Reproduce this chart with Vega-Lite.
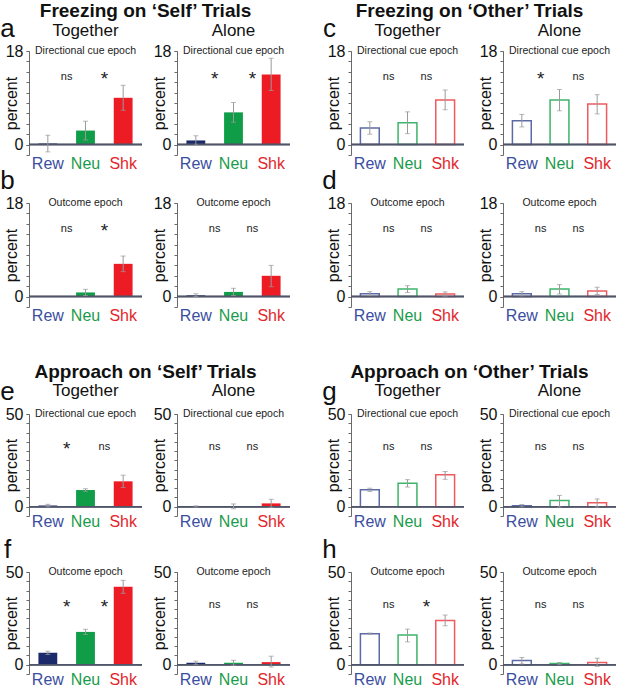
{
  "$schema": "https://vega.github.io/schema/vega-lite/v6.json",
  "padding": {"left": 0, "top": 2, "right": 0, "bottom": 0},
  "background": "white",
  "config": {
    "font": "Liberation Sans",
    "view": {"stroke": null},
    "title": {"fontSize": 19, "fontWeight": "bold", "font": "Liberation Sans", "color": "#111", "offset": -5, "anchor": "middle"},
    "axisY": {"grid": false, "domainColor": "#6a6a6a", "tickColor": "#6a6a6a", "tickSize": 3, "labelFontSize": 16, "labelColor": "#111", "labelPadding": 3, "labelOverlap": false, "titleFontSize": 16, "titleFontWeight": "normal", "titleColor": "#111", "titlePadding": -14, "titleFont": "Liberation Sans"},
    "axisX": {"grid": false, "domain": false, "ticks": false, "labelFontSize": 16, "labelPadding": 0, "labelAngle": 0, "title": null, "labelFont": "Liberation Sans"},
    "header": {"labelFont": "Liberation Sans", "labelColor": "#111"}
  },
  "data": {"values": [
    {"b":"FS","r":"a","c":"Together","cat":"Rew","v":0.2,"lo":-1.4,"hi":1.8,"sig":null,"ep":"Directional cue epoch"},
    {"b":"FS","r":"a","c":"Together","cat":"Neu","v":2.7,"lo":0.9,"hi":4.5,"sig":"ns","ep":"Directional cue epoch"},
    {"b":"FS","r":"a","c":"Together","cat":"Shk","v":9.0,"lo":6.6,"hi":11.4,"sig":"*","ep":"Directional cue epoch"},
    {"b":"FS","r":"a","c":"Alone","cat":"Rew","v":0.8,"lo":-0.1,"hi":1.7,"sig":null,"ep":"Directional cue epoch"},
    {"b":"FS","r":"a","c":"Alone","cat":"Neu","v":6.2,"lo":4.3,"hi":8.1,"sig":"*","ep":"Directional cue epoch"},
    {"b":"FS","r":"a","c":"Alone","cat":"Shk","v":13.5,"lo":10.4,"hi":16.6,"sig":"*","ep":"Directional cue epoch"},
    {"b":"FS","r":"b","c":"Together","cat":"Rew","v":0,"lo":null,"hi":null,"sig":null,"ep":"Outcome epoch"},
    {"b":"FS","r":"b","c":"Together","cat":"Neu","v":0.8,"lo":0.2,"hi":1.4,"sig":"ns","ep":"Outcome epoch"},
    {"b":"FS","r":"b","c":"Together","cat":"Shk","v":6.3,"lo":4.8,"hi":7.8,"sig":"*","ep":"Outcome epoch"},
    {"b":"FS","r":"b","c":"Alone","cat":"Rew","v":0.25,"lo":0,"hi":0.55,"sig":null,"ep":"Outcome epoch"},
    {"b":"FS","r":"b","c":"Alone","cat":"Neu","v":0.9,"lo":0.2,"hi":1.6,"sig":"ns","ep":"Outcome epoch"},
    {"b":"FS","r":"b","c":"Alone","cat":"Shk","v":4.0,"lo":1.9,"hi":6.0,"sig":"ns","ep":"Outcome epoch"},

    {"b":"FO","r":"c","c":"Together","cat":"Rew","v":3.2,"lo":2.0,"hi":4.4,"sig":null,"ep":"Directional cue epoch"},
    {"b":"FO","r":"c","c":"Together","cat":"Neu","v":4.2,"lo":2.1,"hi":6.3,"sig":"ns","ep":"Directional cue epoch"},
    {"b":"FO","r":"c","c":"Together","cat":"Shk","v":8.6,"lo":6.7,"hi":10.5,"sig":"ns","ep":"Directional cue epoch"},
    {"b":"FO","r":"c","c":"Alone","cat":"Rew","v":4.6,"lo":3.4,"hi":5.8,"sig":null,"ep":"Directional cue epoch"},
    {"b":"FO","r":"c","c":"Alone","cat":"Neu","v":8.6,"lo":6.5,"hi":10.6,"sig":"*","ep":"Directional cue epoch"},
    {"b":"FO","r":"c","c":"Alone","cat":"Shk","v":7.8,"lo":5.9,"hi":9.6,"sig":"ns","ep":"Directional cue epoch"},
    {"b":"FO","r":"d","c":"Together","cat":"Rew","v":0.57,"lo":0.2,"hi":0.95,"sig":null,"ep":"Outcome epoch"},
    {"b":"FO","r":"d","c":"Together","cat":"Neu","v":1.45,"lo":0.8,"hi":2.1,"sig":"ns","ep":"Outcome epoch"},
    {"b":"FO","r":"d","c":"Together","cat":"Shk","v":0.5,"lo":0.1,"hi":0.9,"sig":"ns","ep":"Outcome epoch"},
    {"b":"FO","r":"d","c":"Alone","cat":"Rew","v":0.57,"lo":0.15,"hi":0.95,"sig":null,"ep":"Outcome epoch"},
    {"b":"FO","r":"d","c":"Alone","cat":"Neu","v":1.45,"lo":0.5,"hi":2.3,"sig":"ns","ep":"Outcome epoch"},
    {"b":"FO","r":"d","c":"Alone","cat":"Shk","v":1.07,"lo":0.4,"hi":1.8,"sig":"ns","ep":"Outcome epoch"},

    {"b":"AS","r":"e","c":"Together","cat":"Rew","v":0.7,"lo":0.1,"hi":1.3,"sig":null,"ep":"Directional cue epoch"},
    {"b":"AS","r":"e","c":"Together","cat":"Neu","v":9.0,"lo":8.3,"hi":9.7,"sig":"*","ep":"Directional cue epoch"},
    {"b":"AS","r":"e","c":"Together","cat":"Shk","v":13.7,"lo":10.4,"hi":17.0,"sig":"ns","ep":"Directional cue epoch"},
    {"b":"AS","r":"e","c":"Alone","cat":"Rew","v":0.2,"lo":-0.1,"hi":0.5,"sig":null,"ep":"Directional cue epoch"},
    {"b":"AS","r":"e","c":"Alone","cat":"Neu","v":0.2,"lo":-1.1,"hi":1.5,"sig":"ns","ep":"Directional cue epoch"},
    {"b":"AS","r":"e","c":"Alone","cat":"Shk","v":1.8,"lo":-0.4,"hi":4.0,"sig":"ns","ep":"Directional cue epoch"},
    {"b":"AS","r":"f","c":"Together","cat":"Rew","v":6.4,"lo":5.5,"hi":7.3,"sig":null,"ep":"Outcome epoch"},
    {"b":"AS","r":"f","c":"Together","cat":"Neu","v":17.7,"lo":16.3,"hi":19.1,"sig":"*","ep":"Outcome epoch"},
    {"b":"AS","r":"f","c":"Together","cat":"Shk","v":42.0,"lo":38.5,"hi":45.5,"sig":"*","ep":"Outcome epoch"},
    {"b":"AS","r":"f","c":"Alone","cat":"Rew","v":1.06,"lo":0.2,"hi":1.9,"sig":null,"ep":"Outcome epoch"},
    {"b":"AS","r":"f","c":"Alone","cat":"Neu","v":1.06,"lo":-0.3,"hi":2.4,"sig":"ns","ep":"Outcome epoch"},
    {"b":"AS","r":"f","c":"Alone","cat":"Shk","v":1.4,"lo":-1.2,"hi":4.6,"sig":"ns","ep":"Outcome epoch"},

    {"b":"AO","r":"g","c":"Together","cat":"Rew","v":9.1,"lo":8.2,"hi":10.0,"sig":null,"ep":"Directional cue epoch"},
    {"b":"AO","r":"g","c":"Together","cat":"Neu","v":12.7,"lo":10.6,"hi":14.6,"sig":"ns","ep":"Directional cue epoch"},
    {"b":"AO","r":"g","c":"Together","cat":"Shk","v":17.2,"lo":14.8,"hi":19.0,"sig":"ns","ep":"Directional cue epoch"},
    {"b":"AO","r":"g","c":"Alone","cat":"Rew","v":0.5,"lo":-0.1,"hi":1.2,"sig":null,"ep":"Directional cue epoch"},
    {"b":"AO","r":"g","c":"Alone","cat":"Neu","v":3.3,"lo":-0.2,"hi":6.1,"sig":"ns","ep":"Directional cue epoch"},
    {"b":"AO","r":"g","c":"Alone","cat":"Shk","v":2.1,"lo":-0.2,"hi":4.2,"sig":"ns","ep":"Directional cue epoch"},
    {"b":"AO","r":"h","c":"Together","cat":"Rew","v":16.7,"lo":16.4,"hi":17.1,"sig":null,"ep":"Outcome epoch"},
    {"b":"AO","r":"h","c":"Together","cat":"Neu","v":16.0,"lo":12.3,"hi":19.2,"sig":"ns","ep":"Outcome epoch"},
    {"b":"AO","r":"h","c":"Together","cat":"Shk","v":23.9,"lo":21.0,"hi":26.8,"sig":"*","ep":"Outcome epoch"},
    {"b":"AO","r":"h","c":"Alone","cat":"Rew","v":2.3,"lo":0.4,"hi":3.9,"sig":null,"ep":"Outcome epoch"},
    {"b":"AO","r":"h","c":"Alone","cat":"Neu","v":0.7,"lo":0.2,"hi":1.2,"sig":"ns","ep":"Outcome epoch"},
    {"b":"AO","r":"h","c":"Alone","cat":"Shk","v":1.2,"lo":-0.9,"hi":3.5,"sig":"ns","ep":"Outcome epoch"}
  ]},
  "spacing": 40,
  "vconcat": [
    {
      "spacing": 31,
      "hconcat": [
        {
          "title": "Freezing on ‘Self’ Trials",
          "transform": [{"filter": "datum.b === 'FS'"}],
          "bounds": "flush",
          "facet": {
            "row": {"field": "r", "type": "nominal", "header": {"title": null, "labels": false}},
            "column": {"field": "c", "type": "nominal", "sort": ["Together", "Alone"], "header": {"title": null, "labelFontSize": 17, "labelPadding": 11}}
          },
          "spacing": {"row": 48, "column": 35},
          "resolve": {"axis": {"x": "independent", "y": "independent"}},
          "spec": {
            "width": 113, "height": 104,
            "resolve": {"axis": {"y": "independent"}},
            "layer": [
              {"mark": {"type": "bar"},
               "encoding": {
                 "x": {"field": "cat", "type": "nominal", "sort": ["Rew", "Neu", "Shk"], "scale": {"paddingInner": 0.5, "paddingOuter": 0.25},
                       "axis": {"labelColor": {"condition": [{"test": "datum.value === 'Rew'", "value": "#3a4ea0"}, {"test": "datum.value === 'Neu'", "value": "#1a9c4b"}], "value": "#e3262b"}}},
                 "y": {"field": "v", "type": "quantitative", "title": "percent", "scale": {"domain": [-2, 18], "nice": false, "zero": false},
                       "axis": {"values": [0, 18], "orient": "left"}},
                 "color": {"field": "cat", "type": "nominal", "legend": null, "scale": {"domain": ["Rew", "Neu", "Shk"], "range": ["#1b2a6b", "#0f9d48", "#ed1c24"]}}
               }},
              {"mark": {"type": "rule", "color": "#50556a", "strokeWidth": 1.5}, "encoding": {"y": {"datum": 0, "type": "quantitative", "axis": {"orient": "left", "values": [-2, 0, 2, 4, 6, 8, 10, 12, 14, 16, 18], "labels": false, "domain": false, "title": null}}}},
              {"mark": {"type": "rule", "color": "#9a9a9a", "strokeWidth": 1},
               "encoding": {"x": {"field": "cat", "type": "nominal", "sort": ["Rew", "Neu", "Shk"]}, "y": {"field": "lo", "type": "quantitative", "axis": null}, "y2": {"field": "hi"}}},
              {"mark": {"type": "tick", "color": "#9a9a9a", "thickness": 1, "size": 5},
               "encoding": {"x": {"field": "cat", "type": "nominal", "sort": ["Rew", "Neu", "Shk"]}, "y": {"field": "lo", "type": "quantitative", "axis": null}}},
              {"mark": {"type": "tick", "color": "#9a9a9a", "thickness": 1, "size": 5},
               "encoding": {"x": {"field": "cat", "type": "nominal", "sort": ["Rew", "Neu", "Shk"]}, "y": {"field": "hi", "type": "quantitative", "axis": null}}},
              {"transform": [{"filter": "datum.sig === 'ns'"}],
               "mark": {"type": "text", "fontSize": 11, "baseline": "middle", "color": "#222"},
               "encoding": {"x": {"field": "cat", "type": "nominal", "sort": ["Rew", "Neu", "Shk"], "bandPosition": -0.5}, "y": {"datum": 13, "type": "quantitative", "axis": null}, "text": {"field": "sig"}}},
              {"transform": [{"filter": "datum.sig === '*'"}],
               "mark": {"type": "text", "fontSize": 19, "baseline": "middle", "dy": 2, "color": "#222"},
               "encoding": {"x": {"field": "cat", "type": "nominal", "sort": ["Rew", "Neu", "Shk"], "bandPosition": -0.5}, "y": {"datum": 13, "type": "quantitative", "axis": null}, "text": {"field": "sig"}}},
              {"transform": [{"filter": "datum.cat === 'Neu'"}],
               "mark": {"type": "text", "fontSize": 10.5, "baseline": "middle", "color": "#222"},
               "encoding": {"x": {"field": "cat", "type": "nominal", "sort": ["Rew", "Neu", "Shk"]}, "y": {"datum": 18, "type": "quantitative", "axis": null}, "text": {"field": "ep"}}},
              {"transform": [{"filter": "datum.cat === 'Rew' && datum.c === 'Together'"}],
               "mark": {"type": "text", "fontSize": 26, "align": "center", "baseline": "alphabetic", "dy": -14, "color": "#111"},
               "encoding": {"x": {"field": "cat", "type": "nominal", "sort": ["Rew", "Neu", "Shk"], "bandPosition": -1.64}, "y": {"datum": 18, "type": "quantitative", "axis": null}, "text": {"field": "r"}}}
            ]
          }
        },
        {
          "title": "Freezing on ‘Other’ Trials",
          "transform": [{"filter": "datum.b === 'FO'"}],
          "bounds": "flush",
          "facet": {
            "row": {"field": "r", "type": "nominal", "header": {"title": null, "labels": false}},
            "column": {"field": "c", "type": "nominal", "sort": ["Together", "Alone"], "header": {"title": null, "labelFontSize": 17, "labelPadding": 11}}
          },
          "spacing": {"row": 48, "column": 39},
          "resolve": {"axis": {"x": "independent", "y": "independent"}},
          "spec": {
            "width": 113, "height": 104,
            "resolve": {"axis": {"y": "independent"}},
            "layer": [
              {"mark": {"type": "bar", "fill": "white", "strokeWidth": 1.5},
               "encoding": {
                 "x": {"field": "cat", "type": "nominal", "sort": ["Rew", "Neu", "Shk"], "scale": {"paddingInner": 0.5, "paddingOuter": 0.25},
                       "axis": {"labelColor": {"condition": [{"test": "datum.value === 'Rew'", "value": "#3a4ea0"}, {"test": "datum.value === 'Neu'", "value": "#1a9c4b"}], "value": "#e3262b"}}},
                 "y": {"field": "v", "type": "quantitative", "title": "percent", "scale": {"domain": [-2, 18], "nice": false, "zero": false},
                       "axis": {"values": [0, 18], "orient": "left"}},
                 "stroke": {"field": "cat", "type": "nominal", "legend": null, "scale": {"domain": ["Rew", "Neu", "Shk"], "range": ["#5c6aa6", "#3db56b", "#f05a5f"]}}
               }},
              {"mark": {"type": "rule", "color": "#50556a", "strokeWidth": 1.5}, "encoding": {"y": {"datum": 0, "type": "quantitative", "axis": {"orient": "left", "values": [-2, 0, 2, 4, 6, 8, 10, 12, 14, 16, 18], "labels": false, "domain": false, "title": null}}}},
              {"mark": {"type": "rule", "color": "#9a9a9a", "strokeWidth": 1},
               "encoding": {"x": {"field": "cat", "type": "nominal", "sort": ["Rew", "Neu", "Shk"]}, "y": {"field": "lo", "type": "quantitative", "axis": null}, "y2": {"field": "hi"}}},
              {"mark": {"type": "tick", "color": "#9a9a9a", "thickness": 1, "size": 5},
               "encoding": {"x": {"field": "cat", "type": "nominal", "sort": ["Rew", "Neu", "Shk"]}, "y": {"field": "lo", "type": "quantitative", "axis": null}}},
              {"mark": {"type": "tick", "color": "#9a9a9a", "thickness": 1, "size": 5},
               "encoding": {"x": {"field": "cat", "type": "nominal", "sort": ["Rew", "Neu", "Shk"]}, "y": {"field": "hi", "type": "quantitative", "axis": null}}},
              {"transform": [{"filter": "datum.sig === 'ns'"}],
               "mark": {"type": "text", "fontSize": 11, "baseline": "middle", "color": "#222"},
               "encoding": {"x": {"field": "cat", "type": "nominal", "sort": ["Rew", "Neu", "Shk"], "bandPosition": -0.5}, "y": {"datum": 13, "type": "quantitative", "axis": null}, "text": {"field": "sig"}}},
              {"transform": [{"filter": "datum.sig === '*'"}],
               "mark": {"type": "text", "fontSize": 19, "baseline": "middle", "dy": 2, "color": "#222"},
               "encoding": {"x": {"field": "cat", "type": "nominal", "sort": ["Rew", "Neu", "Shk"], "bandPosition": -0.5}, "y": {"datum": 13, "type": "quantitative", "axis": null}, "text": {"field": "sig"}}},
              {"transform": [{"filter": "datum.cat === 'Neu'"}],
               "mark": {"type": "text", "fontSize": 10.5, "baseline": "middle", "color": "#222"},
               "encoding": {"x": {"field": "cat", "type": "nominal", "sort": ["Rew", "Neu", "Shk"]}, "y": {"datum": 18, "type": "quantitative", "axis": null}, "text": {"field": "ep"}}},
              {"transform": [{"filter": "datum.cat === 'Rew' && datum.c === 'Together'"}],
               "mark": {"type": "text", "fontSize": 26, "align": "center", "baseline": "alphabetic", "dy": -14, "color": "#111"},
               "encoding": {"x": {"field": "cat", "type": "nominal", "sort": ["Rew", "Neu", "Shk"], "bandPosition": -1.64}, "y": {"datum": 18, "type": "quantitative", "axis": null}, "text": {"field": "r"}}}
            ]
          }
        }
      ]
    },
    {
      "spacing": 31,
      "hconcat": [
        {
          "title": {"text": "Approach on ‘Self’ Trials", "offset": -3},
          "transform": [{"filter": "datum.b === 'AS'"}],
          "bounds": "flush",
          "facet": {
            "row": {"field": "r", "type": "nominal", "header": {"title": null, "labels": false}},
            "column": {"field": "c", "type": "nominal", "sort": ["Together", "Alone"], "header": {"title": null, "labelFontSize": 17, "labelPadding": 14}}
          },
          "spacing": {"row": 56, "column": 35},
          "resolve": {"axis": {"x": "independent", "y": "independent"}},
          "spec": {
            "width": 113, "height": 102,
            "resolve": {"axis": {"y": "independent"}},
            "layer": [
              {"mark": {"type": "bar"},
               "encoding": {
                 "x": {"field": "cat", "type": "nominal", "sort": ["Rew", "Neu", "Shk"], "scale": {"paddingInner": 0.5, "paddingOuter": 0.25},
                       "axis": {"labelPadding": -3, "labelColor": {"condition": [{"test": "datum.value === 'Rew'", "value": "#3a4ea0"}, {"test": "datum.value === 'Neu'", "value": "#1a9c4b"}], "value": "#e3262b"}}},
                 "y": {"field": "v", "type": "quantitative", "title": "percent", "scale": {"domain": [-5, 50], "nice": false, "zero": false},
                       "axis": {"values": [0, 50], "orient": "left"}},
                 "color": {"field": "cat", "type": "nominal", "legend": null, "scale": {"domain": ["Rew", "Neu", "Shk"], "range": ["#1b2a6b", "#0f9d48", "#ed1c24"]}}
               }},
              {"mark": {"type": "rule", "color": "#50556a", "strokeWidth": 1.5}, "encoding": {"y": {"datum": 0, "type": "quantitative", "axis": {"orient": "left", "values": [-5, 0, 5, 10, 15, 20, 25, 30, 35, 40, 45, 50], "labels": false, "domain": false, "title": null}}}},
              {"mark": {"type": "rule", "color": "#9a9a9a", "strokeWidth": 1},
               "encoding": {"x": {"field": "cat", "type": "nominal", "sort": ["Rew", "Neu", "Shk"]}, "y": {"field": "lo", "type": "quantitative", "axis": null}, "y2": {"field": "hi"}}},
              {"mark": {"type": "tick", "color": "#9a9a9a", "thickness": 1, "size": 5},
               "encoding": {"x": {"field": "cat", "type": "nominal", "sort": ["Rew", "Neu", "Shk"]}, "y": {"field": "lo", "type": "quantitative", "axis": null}}},
              {"mark": {"type": "tick", "color": "#9a9a9a", "thickness": 1, "size": 5},
               "encoding": {"x": {"field": "cat", "type": "nominal", "sort": ["Rew", "Neu", "Shk"]}, "y": {"field": "hi", "type": "quantitative", "axis": null}}},
              {"transform": [{"filter": "datum.sig === 'ns'"}],
               "mark": {"type": "text", "fontSize": 11, "baseline": "middle", "color": "#222"},
               "encoding": {"x": {"field": "cat", "type": "nominal", "sort": ["Rew", "Neu", "Shk"], "bandPosition": -0.5}, "y": {"datum": 32, "type": "quantitative", "axis": null}, "text": {"field": "sig"}}},
              {"transform": [{"filter": "datum.sig === '*'"}],
               "mark": {"type": "text", "fontSize": 19, "baseline": "middle", "dy": 2, "color": "#222"},
               "encoding": {"x": {"field": "cat", "type": "nominal", "sort": ["Rew", "Neu", "Shk"], "bandPosition": -0.5}, "y": {"datum": 32, "type": "quantitative", "axis": null}, "text": {"field": "sig"}}},
              {"transform": [{"filter": "datum.cat === 'Neu'"}],
               "mark": {"type": "text", "fontSize": 10.5, "baseline": "middle", "color": "#222"},
               "encoding": {"x": {"field": "cat", "type": "nominal", "sort": ["Rew", "Neu", "Shk"]}, "y": {"datum": 50, "type": "quantitative", "axis": null}, "text": {"field": "ep"}}},
              {"transform": [{"filter": "datum.cat === 'Rew' && datum.c === 'Together'"}],
               "mark": {"type": "text", "fontSize": 26, "align": "center", "baseline": "alphabetic", "dy": -14, "color": "#111"},
               "encoding": {"x": {"field": "cat", "type": "nominal", "sort": ["Rew", "Neu", "Shk"], "bandPosition": -1.64}, "y": {"datum": 50, "type": "quantitative", "axis": null}, "text": {"field": "r"}}}
            ]
          }
        },
        {
          "title": {"text": "Approach on ‘Other’ Trials", "offset": -3},
          "transform": [{"filter": "datum.b === 'AO'"}],
          "bounds": "flush",
          "facet": {
            "row": {"field": "r", "type": "nominal", "header": {"title": null, "labels": false}},
            "column": {"field": "c", "type": "nominal", "sort": ["Together", "Alone"], "header": {"title": null, "labelFontSize": 17, "labelPadding": 14}}
          },
          "spacing": {"row": 56, "column": 39},
          "resolve": {"axis": {"x": "independent", "y": "independent"}},
          "spec": {
            "width": 113, "height": 102,
            "resolve": {"axis": {"y": "independent"}},
            "layer": [
              {"mark": {"type": "bar", "fill": "white", "strokeWidth": 1.5},
               "encoding": {
                 "x": {"field": "cat", "type": "nominal", "sort": ["Rew", "Neu", "Shk"], "scale": {"paddingInner": 0.5, "paddingOuter": 0.25},
                       "axis": {"labelPadding": -3, "labelColor": {"condition": [{"test": "datum.value === 'Rew'", "value": "#3a4ea0"}, {"test": "datum.value === 'Neu'", "value": "#1a9c4b"}], "value": "#e3262b"}}},
                 "y": {"field": "v", "type": "quantitative", "title": "percent", "scale": {"domain": [-5, 50], "nice": false, "zero": false},
                       "axis": {"values": [0, 50], "orient": "left"}},
                 "stroke": {"field": "cat", "type": "nominal", "legend": null, "scale": {"domain": ["Rew", "Neu", "Shk"], "range": ["#5c6aa6", "#3db56b", "#f05a5f"]}}
               }},
              {"mark": {"type": "rule", "color": "#50556a", "strokeWidth": 1.5}, "encoding": {"y": {"datum": 0, "type": "quantitative", "axis": {"orient": "left", "values": [-5, 0, 5, 10, 15, 20, 25, 30, 35, 40, 45, 50], "labels": false, "domain": false, "title": null}}}},
              {"mark": {"type": "rule", "color": "#9a9a9a", "strokeWidth": 1},
               "encoding": {"x": {"field": "cat", "type": "nominal", "sort": ["Rew", "Neu", "Shk"]}, "y": {"field": "lo", "type": "quantitative", "axis": null}, "y2": {"field": "hi"}}},
              {"mark": {"type": "tick", "color": "#9a9a9a", "thickness": 1, "size": 5},
               "encoding": {"x": {"field": "cat", "type": "nominal", "sort": ["Rew", "Neu", "Shk"]}, "y": {"field": "lo", "type": "quantitative", "axis": null}}},
              {"mark": {"type": "tick", "color": "#9a9a9a", "thickness": 1, "size": 5},
               "encoding": {"x": {"field": "cat", "type": "nominal", "sort": ["Rew", "Neu", "Shk"]}, "y": {"field": "hi", "type": "quantitative", "axis": null}}},
              {"transform": [{"filter": "datum.sig === 'ns'"}],
               "mark": {"type": "text", "fontSize": 11, "baseline": "middle", "color": "#222"},
               "encoding": {"x": {"field": "cat", "type": "nominal", "sort": ["Rew", "Neu", "Shk"], "bandPosition": -0.5}, "y": {"datum": 32, "type": "quantitative", "axis": null}, "text": {"field": "sig"}}},
              {"transform": [{"filter": "datum.sig === '*'"}],
               "mark": {"type": "text", "fontSize": 19, "baseline": "middle", "dy": 2, "color": "#222"},
               "encoding": {"x": {"field": "cat", "type": "nominal", "sort": ["Rew", "Neu", "Shk"], "bandPosition": -0.5}, "y": {"datum": 32, "type": "quantitative", "axis": null}, "text": {"field": "sig"}}},
              {"transform": [{"filter": "datum.cat === 'Neu'"}],
               "mark": {"type": "text", "fontSize": 10.5, "baseline": "middle", "color": "#222"},
               "encoding": {"x": {"field": "cat", "type": "nominal", "sort": ["Rew", "Neu", "Shk"]}, "y": {"datum": 50, "type": "quantitative", "axis": null}, "text": {"field": "ep"}}},
              {"transform": [{"filter": "datum.cat === 'Rew' && datum.c === 'Together'"}],
               "mark": {"type": "text", "fontSize": 26, "align": "center", "baseline": "alphabetic", "dy": -14, "color": "#111"},
               "encoding": {"x": {"field": "cat", "type": "nominal", "sort": ["Rew", "Neu", "Shk"], "bandPosition": -1.64}, "y": {"datum": 50, "type": "quantitative", "axis": null}, "text": {"field": "r"}}}
            ]
          }
        }
      ]
    }
  ]
}
